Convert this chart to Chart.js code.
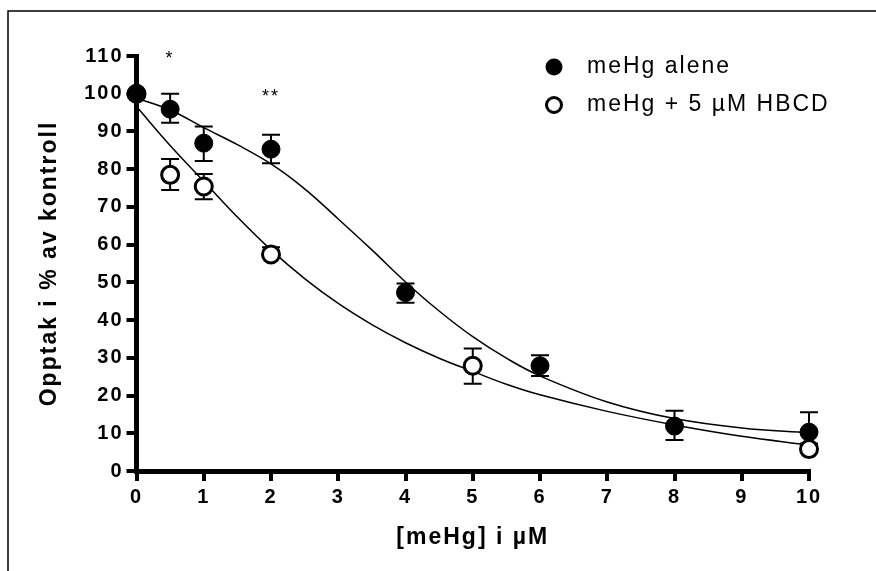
<!DOCTYPE html>
<html>
<head>
<meta charset="utf-8">
<script src="https://cdn.jsdelivr.net/npm/chart.js@4.4.1/dist/chart.umd.min.js"></script>
<style>
  html, body { margin: 0; padding: 0; background: #fff; }
  #wrap { width: 876px; height: 571px; position: relative; }
</style>
</head>
<body>
<div id="wrap"><canvas id="chart"></canvas></div>
<script>
// meHg alene (filled)
const aloneDoses = [0, 0.5, 1, 2, 4, 6, 8, 10];
const aloneMean = [100, 95.9, 86.9, 85.3, 47.3, 27.9, 11.9, 10.3];
const aloneLow = [100, 92.3, 82.2, 81.6, 44.6, 25.2, 8.2, 10.3];
const aloneHigh = [100, 100.0, 91.3, 89.1, 49.7, 30.7, 16.0, 15.6];

// meHg + 5 uM HBCD (open)
const hbcdDoses = [0, 0.5, 1, 2, 5, 10];
const hbcdMean = [100, 78.5, 75.4, 57.4, 27.9, 5.8];
const hbcdLow = [100, 74.5, 72.0, 57.4, 23.1, 5.1];
const hbcdHigh = [100, 82.7, 78.7, 59.3, 32.5, 7.3];

// fitted curves
const fitX = [0, 0.5, 1, 1.5, 2, 2.5, 3, 3.5, 4, 4.5, 5, 5.5, 6, 7, 8, 9, 10];
const aloneFit = [98.8, 95.7, 91.0, 86.5, 81.4, 74.8, 66.8, 58.6, 50.1, 42.4, 35.6, 29.9, 25.2, 18.3, 13.9, 11.4, 10.1];
const hbcdFit = [96.6, 86.3, 76.8, 67.3, 58.6, 51.0, 44.4, 38.8, 34.0, 29.9, 26.4, 23.0, 20.2, 15.8, 12.2, 9.2, 6.9];

// significance marks
const starX = [0.5, 2];
const starY = [109.1, 99.2];
const starText = ['*', '**'];

const legendLabels = ['meHg alene', 'meHg + 5 \u00B5M HBCD'];

const FONT = "'Liberation Sans', Arial, sans-serif";

function pts(xs, ys) {
  return xs.map((x, i) => ({ x: x, y: ys[i] }));
}

function setSpacing(chart) {
  chart.ctx.letterSpacing = '2px';
}

const spacingPlugin = {
  id: 'spacing',
  beforeLayout: setSpacing,
  beforeDraw: setSpacing
};

const framePlugin = {
  id: 'frame',
  beforeDraw(chart) {
    const ctx = chart.ctx;
    ctx.save();
    ctx.strokeStyle = '#000';
    ctx.lineWidth = 1.5;
    ctx.beginPath();
    ctx.moveTo(8, chart.height);
    ctx.lineTo(8, 11);
    ctx.lineTo(chart.width, 11);
    ctx.stroke();
    ctx.restore();
  }
};

const errorPlugin = {
  id: 'errorBars',
  beforeDatasetsDraw(chart) {
    const ctx = chart.ctx;
    const xs = chart.scales.x, ys = chart.scales.y;
    const cap = 9;
    ctx.save();
    ctx.strokeStyle = '#000';
    ctx.lineWidth = 2;
    const sets = [[aloneDoses, aloneLow, aloneHigh], [hbcdDoses, hbcdLow, hbcdHigh]];
    sets.forEach(([d, lo, hi]) => {
      d.forEach((x, i) => {
        if (lo[i] === hi[i]) return;
        const px = xs.getPixelForValue(x);
        const y1 = ys.getPixelForValue(lo[i]);
        const y2 = ys.getPixelForValue(hi[i]);
        ctx.beginPath();
        ctx.moveTo(px, y1); ctx.lineTo(px, y2);
        ctx.moveTo(px - cap, y1); ctx.lineTo(px + cap, y1);
        ctx.moveTo(px - cap, y2); ctx.lineTo(px + cap, y2);
        ctx.stroke();
      });
    });
    ctx.restore();
  },
  afterDraw(chart) {
    const ctx = chart.ctx;
    const xs = chart.scales.x, ys = chart.scales.y;
    const area = chart.chartArea;
    ctx.save();
    ctx.letterSpacing = '2px';
    ctx.fillStyle = '#000';
    // stars
    ctx.font = '18px ' + FONT;
    ctx.textAlign = 'center';
    ctx.textBaseline = 'middle';
    starX.forEach((x, i) => {
      ctx.fillText(starText[i], xs.getPixelForValue(x), ys.getPixelForValue(starY[i]));
    });
    // legend
    const lx = area.right - 255;
    const rows = [area.top + 11, area.top + 49];
    ctx.font = '23px ' + FONT;
    ctx.textAlign = 'left';
    rows.forEach((ry, i) => {
      ctx.beginPath();
      if (i === 0) {
        ctx.arc(lx, ry, 8.5, 0, Math.PI * 2);
        ctx.fill();
      } else {
        ctx.arc(lx, ry, 7.5, 0, Math.PI * 2);
        ctx.lineWidth = 3;
        ctx.strokeStyle = '#000';
        ctx.stroke();
      }
      ctx.fillText(legendLabels[i], lx + 33, ry);
    });
    ctx.restore();
  }
};

new Chart(document.getElementById('chart'), {
  type: 'scatter',
  data: {
    datasets: [
      {
        type: 'line',
        data: pts(fitX, aloneFit),
        borderColor: '#000',
        borderWidth: 1.5,
        pointRadius: 0,
        tension: 0.4,
        fill: false,
        clip: false,
        order: 3
      },
      {
        type: 'line',
        data: pts(fitX, hbcdFit),
        borderColor: '#000',
        borderWidth: 1.5,
        pointRadius: 0,
        tension: 0.4,
        fill: false,
        clip: false,
        order: 4
      },
      {
        label: legendLabels[1],
        data: pts(hbcdDoses, hbcdMean),
        pointRadius: 8.5,
        pointBorderWidth: 3,
        pointBackgroundColor: '#fff',
        pointBorderColor: '#000',
        showLine: false,
        clip: false,
        order: 2
      },
      {
        label: legendLabels[0],
        data: pts(aloneDoses, aloneMean),
        pointRadius: 9,
        pointBorderWidth: 1,
        pointBackgroundColor: '#000',
        pointBorderColor: '#000',
        showLine: false,
        clip: false,
        order: 1
      }
    ]
  },
  options: {
    responsive: true,
    maintainAspectRatio: false,
    animation: false,
    events: [],
    layout: { padding: { left: 0, right: 67, top: 56, bottom: 10 } },
    plugins: {
      legend: { display: false },
      tooltip: { enabled: false }
    },
    scales: {
      x: {
        type: 'linear',
        min: 0,
        max: 10,
        afterFit(scale) { scale.height = 90; },
        border: { display: true, color: '#000', width: 5 },
        grid: { drawOnChartArea: false, drawTicks: true, tickLength: 10, color: '#000', lineWidth: 4 },
        ticks: {
          stepSize: 1,
          padding: 4,
          color: '#000',
          font: { family: FONT, size: 20, weight: 'bold' }
        },
        title: {
          display: true,
          text: '[meHg] i \u00B5M',
          color: '#000',
          font: { family: FONT, size: 23, weight: 'bold' },
          padding: { top: 0, bottom: 10 }
        }
      },
      y: {
        type: 'linear',
        min: 0,
        max: 110,
        afterFit(scale) { scale.width = 136.5; },
        border: { display: true, color: '#000', width: 5 },
        grid: { drawOnChartArea: false, drawTicks: true, tickLength: 10, color: '#000', lineWidth: 4 },
        ticks: {
          stepSize: 10,
          padding: 3,
          color: '#000',
          font: { family: FONT, size: 20, weight: 'bold' }
        },
        title: {
          display: true,
          text: 'Opptak i % av kontroll',
          color: '#000',
          font: { family: FONT, size: 23, weight: 'bold' },
          padding: { top: 36, bottom: 0 }
        }
      }
    }
  },
  plugins: [spacingPlugin, framePlugin, errorPlugin]
});
</script>
</body>
</html>
